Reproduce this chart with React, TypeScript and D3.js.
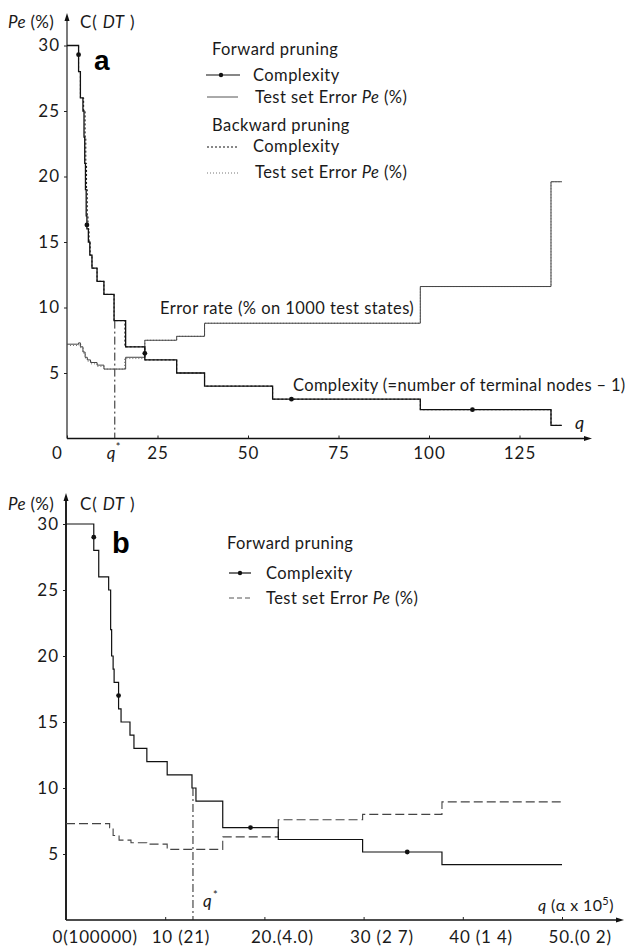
import React, { useEffect, useRef } from "react";
import * as d3 from "d3";

const FONT = "Lato, 'Liberation Sans', Arial, sans-serif";

// (a) forward pruning: complexity C(DT) and test set error Pe against q
const aComplexityQ = [0, 3.2, 3.7, 4.4, 4.7, 4.9, 5.1, 5.3, 5.5, 5.9, 6.3, 6.9, 8.3, 10.2, 13.0, 16.2, 21.5, 30.3, 38.0, 56.8, 97.6, 133.7, 136.7];
const aComplexity = [30, 28, 26, 25, 23, 21, 19, 17, 16, 15, 14, 13, 12, 11, 9, 7, 6, 5, 4, 3, 2.2, 1, 1];
const aComplexityDotQ = [3.2, 5.5, 21.5, 62, 112];
const aComplexityDot = [29.3, 16.3, 6.5, 3, 2.2];
const aErrorQ = [0, 3.2, 3.7, 4.4, 5.0, 5.6, 6.5, 8.3, 10.2, 16.2, 21.5, 30.3, 38.0, 97.6, 133.7, 136.7];
const aError = [7.2, 7.3, 7.0, 6.6, 6.2, 6.0, 5.8, 5.6, 5.3, 6.2, 7.5, 7.8, 8.8, 11.6, 19.6, 19.6];

// (a) backward pruning
const aBackComplexityQ = [0, 3.2, 3.7, 4.6, 5.0, 5.2, 5.4, 5.6, 5.8, 6.1, 6.4, 6.9, 8.3, 10.2, 13.0, 16.0, 21.5, 30.3, 38.0, 56.8, 97.6, 133.7, 136.7];
const aBackComplexity = [30, 28, 26, 25, 23, 21, 19, 17, 16, 15, 14, 13, 12, 11, 9, 7, 6, 5, 4, 3, 2.2, 1, 1];
const aBackErrorQ = [0, 3.3, 3.8, 4.5, 5.1, 5.7, 6.6, 8.4, 10.3, 15.9, 21.5, 30.3, 38.0, 97.6, 133.7, 136.7];
const aBackError = [7.1, 7.2, 6.9, 6.5, 6.1, 5.9, 5.7, 5.5, 5.3, 6.1, 7.5, 7.8, 8.8, 11.6, 19.6, 19.6];

const aTicks = [0, 25, 50, 75, 100, 125];
const aQStar = 13.2;

// (b) forward pruning against q (alpha x 10^5)
const bComplexityQ = [0, 2.8, 3.3, 4.3, 4.5, 4.6, 4.75, 4.85, 5.3, 5.55, 6.45, 6.85, 8.15, 10.2, 12.7, 13.1, 15.8, 21.4, 29.9, 37.9, 50.0];
const bComplexity = [30, 28, 26, 25, 22, 20, 19, 18, 16, 15, 14, 13, 12, 11, 10, 9, 7, 6.1, 5.15, 4.2, 4.2];
const bComplexityDotQ = [2.8, 5.3, 18.6, 34.4];
const bComplexityDot = [29, 17, 7, 5.15];
const bErrorQ = [0, 4.4, 4.75, 5.35, 6.55, 8.15, 10.2, 15.8, 21.4, 29.9, 37.9, 50.0];
const bError = [7.3, 7.0, 6.4, 6.05, 5.85, 5.75, 5.35, 6.3, 7.6, 8.0, 8.95, 8.95];

const bTicks = [0, 10, 20, 30, 40, 50];
const bTickLabels = ["0(100000)", "10 (21)", "20.(4.0)", "30 (2 7)", "40 (1 4)", "50.(0 2)"];
const bQStar = 12.8;

const yTicks = [5, 10, 15, 20, 25, 30];

type Part = [string, boolean?];

function label(g: any, x: number, y: number, parts: Part[], size = 16.5, spacing = 0.45) {
  const t = g.append("text")
    .attr("x", x).attr("y", y)
    .attr("font-family", FONT)
    .attr("font-size", size)
    .attr("letter-spacing", spacing)
    .attr("fill", "#1a1a1a");
  parts.forEach(([s, it]) => t.append("tspan").text(s).attr("font-style", it ? "italic" : null));
  return t;
}

function stepPath(x: any, y: any, qs: number[], vs: number[]) {
  return d3.line<number>()
    .x(q => x(q))
    .y((_, i) => y(vs[i]))
    .curve(d3.curveStepAfter)(qs);
}

function drawFrame(svg: any, x: any, y: any, xEnd: number, yTop: number, axisW: number) {
  const x0 = x(0), y0 = y(0);
  svg.append("line").attr("x1", x0).attr("x2", x0).attr("y1", y0).attr("y2", yTop + 6)
    .attr("stroke", "#222").attr("stroke-width", axisW);
  svg.append("path").attr("d", `M${x0},${yTop} L${x0 - 2.5},${yTop + 8} L${x0 + 2.5},${yTop + 8} Z`).attr("fill", "#111");
  svg.append("line").attr("x1", x0).attr("x2", xEnd - 6).attr("y1", y0).attr("y2", y0)
    .attr("stroke", "#111").attr("stroke-width", 1.6);
  svg.append("path").attr("d", `M${xEnd},${y0} L${xEnd - 8},${y0 - 2.5} L${xEnd - 8},${y0 + 2.5} Z`).attr("fill", "#111");

  svg.append("g")
    .attr("transform", `translate(${x0},0)`)
    .call(d3.axisLeft(y).tickValues(yTicks).tickFormat(d3.format("d")).tickSize(3).tickPadding(4))
    .call((g: any) => g.select(".domain").remove())
    .call((g: any) => g.selectAll("line").attr("stroke", "#222"))
    .call((g: any) => g.selectAll("text").attr("font-family", FONT).attr("font-size", 17)
      .attr("letter-spacing", 1).attr("fill", "#1a1a1a"));
}

function drawPanelA(svg: any) {
  const x = d3.scaleLinear().domain([0, 125]).range([67, 519.5]);
  const y = d3.scaleLinear().domain([0, 30]).range([438.5, 45.5]);

  drawFrame(svg, x, y, 592, 13, 1.2);

  svg.append("g")
    .attr("transform", `translate(0,${y(0)})`)
    .call(d3.axisBottom(x).tickValues(aTicks).tickSizeInner(-3).tickSizeOuter(0).tickPadding(8))
    .call((g: any) => g.select(".domain").remove())
    .call((g: any) => g.selectAll("line").attr("stroke", "#222"))
    .call((g: any) => g.selectAll("text").attr("font-family", FONT).attr("font-size", 17)
      .attr("letter-spacing", 1).attr("fill", "#1a1a1a")
      .attr("x", (d: number) => (d === 0 ? -10 : 0)));

  label(svg, 8, 28, [["Pe", true], [" (%)"]], 17, 0.3);
  label(svg, 80, 28, [["C( "], ["DT", true], [" )"]], 17, 0.8);
  svg.append("text").attr("x", 94).attr("y", 70).text("a")
    .attr("font-family", "'Liberation Sans', Arial, sans-serif").attr("font-weight", "bold").attr("font-size", 28);

  // q* marker
  svg.append("line").attr("x1", x(aQStar)).attr("x2", x(aQStar)).attr("y1", y(9)).attr("y2", y(0))
    .attr("stroke", "#222").attr("stroke-width", 1).attr("stroke-dasharray", "8,3,2,3");
  label(svg, x(aQStar) - 8, 459, [["q", true]], 17);
  label(svg, x(aQStar) + 1, 451, [["*"]], 11);
  label(svg, 575, 429, [["q", true]], 18);

  // backward pruning, drawn under the forward curves
  svg.append("path").attr("d", stepPath(x, y, aBackErrorQ, aBackError))
    .attr("fill", "none").attr("stroke", "#777").attr("stroke-width", 1).attr("stroke-dasharray", "1,2");
  svg.append("path").attr("d", stepPath(x, y, aBackComplexityQ, aBackComplexity))
    .attr("fill", "none").attr("stroke", "#111").attr("stroke-width", 1).attr("stroke-dasharray", "2,2");

  svg.append("path").attr("d", stepPath(x, y, aErrorQ, aError))
    .attr("fill", "none").attr("stroke", "#444").attr("stroke-width", 1);
  svg.append("path").attr("d", stepPath(x, y, aComplexityQ, aComplexity))
    .attr("fill", "none").attr("stroke", "#111").attr("stroke-width", 1.3);
  svg.append("g").selectAll("circle")
    .data(aComplexityDotQ)
    .enter()
    .append("circle")
    .attr("cx", (d: number) => x(d))
    .attr("cy", (_: number, i: number) => y(aComplexityDot[i]))
    .attr("r", 2.4)
    .attr("fill", "#111");

  label(svg, 160, 314, [["Error rate (% on 1000 test states)"]]);
  label(svg, 293, 391, [["Complexity  (=number of terminal nodes \u2013 1)"]], 16.5, 0.35);

  // legend
  label(svg, 212, 55, [["Forward pruning"]]);
  svg.append("line").attr("x1", 206).attr("x2", 240).attr("y1", 75).attr("y2", 75).attr("stroke", "#111").attr("stroke-width", 1.2);
  svg.append("circle").attr("cx", 221).attr("cy", 75).attr("r", 2.2).attr("fill", "#111");
  label(svg, 253, 81, [["Complexity"]]);
  svg.append("line").attr("x1", 207).attr("x2", 238).attr("y1", 97).attr("y2", 97).attr("stroke", "#555").attr("stroke-width", 1);
  label(svg, 255, 103, [["Test set Error "], ["Pe", true], [" (%)"]]);
  label(svg, 212, 131, [["Backward pruning"]]);
  svg.append("line").attr("x1", 207).attr("x2", 238).attr("y1", 147).attr("y2", 147).attr("stroke", "#111").attr("stroke-dasharray", "2,2");
  label(svg, 253, 152, [["Complexity"]]);
  svg.append("line").attr("x1", 207).attr("x2", 238).attr("y1", 173).attr("y2", 173).attr("stroke", "#777").attr("stroke-dasharray", "1,2");
  label(svg, 255, 178, [["Test set Error "], ["Pe", true], [" (%)"]]);
}

function drawPanelB(svg: any) {
  const x = d3.scaleLinear().domain([0, 50]).range([66, 562]);
  const y = d3.scaleLinear().domain([0, 30]).range([920, 524]);

  drawFrame(svg, x, y, 624, 493, 2);

  svg.append("g")
    .attr("transform", `translate(0,${y(0)})`)
    .call(d3.axisBottom(x).tickValues(bTicks).tickFormat((_: any, i: number) => bTickLabels[i]).tickSizeInner(-3).tickSizeOuter(0).tickPadding(11))
    .call((g: any) => g.select(".domain").remove())
    .call((g: any) => g.selectAll("line").attr("stroke", "#222"))
    .call((g: any) => g.selectAll("text").attr("font-family", FONT).attr("font-size", 17)
      .attr("letter-spacing", 0.8).attr("fill", "#1a1a1a")
      .attr("text-anchor", "start").attr("x", -14));

  label(svg, 8, 510, [["Pe", true], [" (%)"]], 17, 0.3);
  label(svg, 80, 510, [["C( "], ["DT", true], [" )"]], 17, 0.8);
  svg.append("text").attr("x", 112).attr("y", 553).text("b")
    .attr("font-family", "'Liberation Sans', Arial, sans-serif").attr("font-weight", "bold").attr("font-size", 29);

  svg.append("line").attr("x1", x(bQStar)).attr("x2", x(bQStar)).attr("y1", y(10)).attr("y2", y(0))
    .attr("stroke", "#222").attr("stroke-width", 1).attr("stroke-dasharray", "8,3,2,3");
  label(svg, 203, 907, [["q", true]], 17);
  label(svg, 213, 899, [["*"]], 11);

  const ql = label(svg, 538, 911, [["q", true], [" (\u03b1 x 10"]], 16, 0.4);
  ql.append("tspan").text("5").attr("font-size", 11).attr("dy", -6);
  ql.append("tspan").text(")").attr("dy", 6);

  svg.append("path").attr("d", stepPath(x, y, bErrorQ, bError))
    .attr("fill", "none").attr("stroke", "#444").attr("stroke-width", 1.1).attr("stroke-dasharray", "9,4");
  svg.append("path").attr("d", stepPath(x, y, bComplexityQ, bComplexity))
    .attr("fill", "none").attr("stroke", "#111").attr("stroke-width", 1.2);
  svg.append("g").selectAll("circle")
    .data(bComplexityDotQ)
    .enter()
    .append("circle")
    .attr("cx", (d: number) => x(d))
    .attr("cy", (_: number, i: number) => y(bComplexityDot[i]))
    .attr("r", 2.4)
    .attr("fill", "#111");

  // legend
  label(svg, 227, 549, [["Forward pruning"]]);
  svg.append("line").attr("x1", 229).attr("x2", 251).attr("y1", 573).attr("y2", 573).attr("stroke", "#111").attr("stroke-width", 1.2);
  svg.append("circle").attr("cx", 240).attr("cy", 573).attr("r", 2.2).attr("fill", "#111");
  label(svg, 266, 579, [["Complexity"]]);
  svg.append("line").attr("x1", 229).attr("x2", 251).attr("y1", 598).attr("y2", 598).attr("stroke", "#555").attr("stroke-dasharray", "5,3");
  label(svg, 266, 604, [["Test set Error "], ["Pe", true], [" (%)"]]);
}

export default function App() {
  const ref = useRef<SVGSVGElement>(null);

  useEffect(() => {
    const svg = d3.select(ref.current);
    svg.selectAll("*").remove();
    drawPanelA(svg);
    drawPanelB(svg);
  }, []);

  return (
    <svg ref={ref} width={625} height={947}
      style={{ position: "absolute", left: 0, top: 0, background: "#fff" }} />
  );
}
